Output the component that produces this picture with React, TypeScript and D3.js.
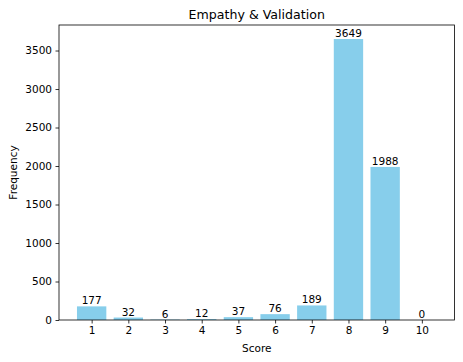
import React, { useRef, useEffect } from "react";
import * as d3 from "d3";

const scores = [1, 2, 3, 4, 5, 6, 7, 8, 9, 10];
const counts = [177, 32, 6, 12, 37, 76, 189, 3649, 1988, 0];
const yTicks = [0, 500, 1000, 1500, 2000, 2500, 3000, 3500];

const App = () => {
	const ref = useRef<SVGSVGElement>(null);
	const width = 463;
	const height = 362;
	const left = 59, top = 25, right = 454.5, bottom = 320;

	useEffect(() => {
		const svg = d3.select(ref.current);
		svg.selectAll("*").remove();
		const font = "DejaVu Sans, sans-serif";
		const fs = 10.5;

		const x = d3.scaleLinear().domain([0.11, 10.89]).range([left, right]);
		const y = d3.scaleLinear().domain([0, 3649 * 1.05]).range([bottom, top]);

		// bars
		svg.append("g")
			.selectAll("rect")
			.data(counts)
			.join("rect")
			.attr("x", (d, i) => x(scores[i] - 0.4))
			.attr("width", x(0.8) - x(0))
			.attr("y", d => y(d))
			.attr("height", d => bottom - y(d))
			.attr("fill", "#87CEEB");

		// value labels
		svg.append("g")
			.selectAll("text")
			.data(counts)
			.join("text")
			.attr("x", (d, i) => x(scores[i]))
			.attr("y", d => y(d) - 2)
			.attr("text-anchor", "middle")
			.attr("font-family", font)
			.attr("font-size", fs)
			.attr("fill", "#000")
			.text(d => d);

		// axes
		const xAxis = d3.axisBottom(x).tickValues(scores).tickSize(3.5).tickPadding(3.5).tickFormat(d3.format("d"));
		const yAxis = d3.axisLeft(y).tickValues(yTicks).tickSize(3.5).tickPadding(3.5).tickFormat(d3.format("d"));
		const gx = svg.append("g").attr("transform", `translate(0, ${bottom})`).call(xAxis);
		const gy = svg.append("g").attr("transform", `translate(${left}, 0)`).call(yAxis);
		[gx, gy].forEach(g => {
			g.select(".domain").remove();
			g.selectAll("text").attr("font-family", font).attr("font-size", fs).attr("fill", "#000");
			g.selectAll("line").attr("stroke", "#000").attr("stroke-width", 0.8);
		});

		// frame
		svg.append("rect")
			.attr("x", left).attr("y", top)
			.attr("width", right - left).attr("height", bottom - top)
			.attr("fill", "none").attr("stroke", "#000").attr("stroke-width", 0.8);

		svg.append("text")
			.attr("x", (left + right) / 2).attr("y", top - 6)
			.attr("text-anchor", "middle")
			.attr("font-family", font).attr("font-size", 12.6)
			.text("Empathy & Validation");

		svg.append("text")
			.attr("x", (left + right) / 2).attr("y", 352)
			.attr("text-anchor", "middle")
			.attr("font-family", font).attr("font-size", fs)
			.text("Score");

		svg.append("text")
			.attr("transform", `translate(17, ${(top + bottom) / 2}) rotate(-90)`)
			.attr("text-anchor", "middle")
			.attr("font-family", font).attr("font-size", fs)
			.text("Frequency");
	});

	return (
		<svg ref={ref} width={width} height={height} style={{ position: "absolute", left: 0, top: 0 }}>
		</svg>
	);
};

export default App;
